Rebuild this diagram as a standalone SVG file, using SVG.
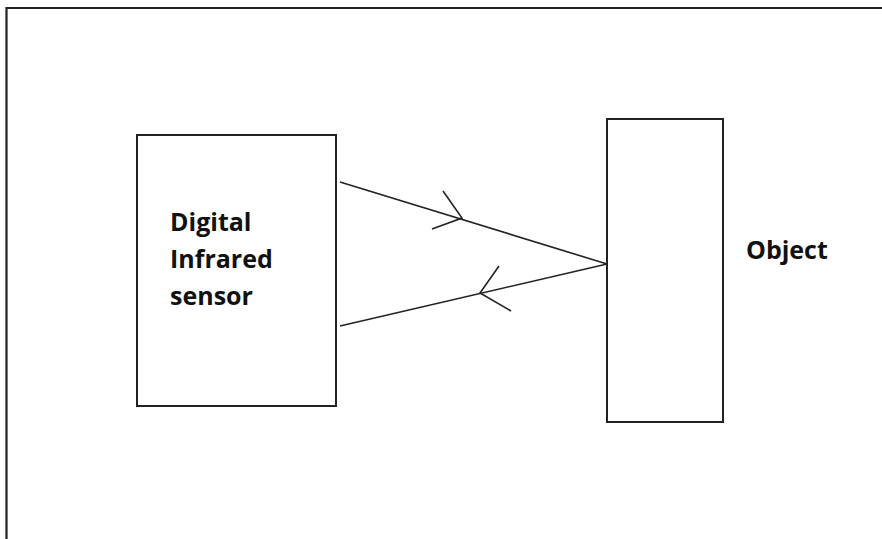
<svg xmlns="http://www.w3.org/2000/svg" width="882" height="539" viewBox="0 0 882 539">
<style>
.box{fill:#fff;stroke:#222;stroke-width:2}
.ln{stroke:#222;stroke-width:1.6;fill:none}
.t{font-family:"Open Sans","Liberation Sans",sans-serif;font-weight:bold;font-size:25px;fill:#111}
</style>
<rect width="882" height="539" fill="#fff"/>
<path d="M6.5 539V8H882" fill="none" stroke="#222" stroke-width="2.2"/>
<g id="sensor">
<rect class="box" x="137" y="135" width="199" height="271"/>
<text class="t" x="170" y="231">Digital</text>
<text class="t" x="170" y="268">Infrared</text>
<text class="t" x="170" y="305">sensor</text>
</g>
<g id="object">
<rect class="box" x="607" y="119" width="116" height="303"/>
<text class="t" x="746" y="259">Object</text>
</g>
<g id="connectors">
<path class="ln" d="M340 182L607 264"/>
<path class="ln" d="M443 191L462 218L432 229"/>
<path class="ln" d="M340 326L607 264"/>
<path class="ln" d="M499 266L480 293L511 311"/>
</g>
</svg>
